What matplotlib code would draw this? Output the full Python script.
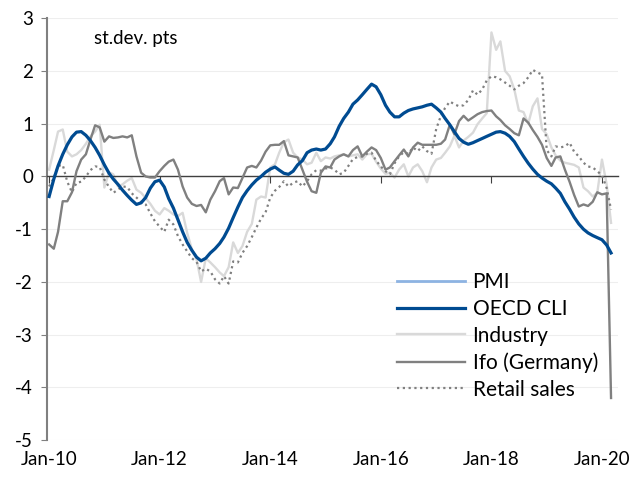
import numpy as np
import pandas as pd
import matplotlib
matplotlib.use('Agg')
import matplotlib.pyplot as plt
import matplotlib.dates as mdates

plt.rcParams['font.family'] = ['Lato', 'DejaVu Sans']
plt.rcParams['axes.unicode_minus'] = False

# monthly, Jan 2010 - Mar 2020 (st.dev. pts)
dates = pd.date_range('2010-01-01', '2020-03-01', freq='MS')

oecd_cli = [
    -0.38, -0.05, 0.20, 0.42, 0.60, 0.75, 0.84, 0.85, 0.78, 0.68, 0.55, 0.40,
    0.22, 0.06, -0.05, -0.15, -0.26, -0.36, -0.45, -0.53, -0.50, -0.40, -0.22, -0.10,
    -0.07, -0.20, -0.42, -0.60, -0.82, -1.05, -1.25, -1.40, -1.53, -1.60, -1.55, -1.45,
    -1.37, -1.27, -1.15, -0.98, -0.78, -0.58, -0.40, -0.27, -0.16, -0.07, 0.00, 0.08,
    0.14, 0.18, 0.12, 0.06, 0.04, 0.10, 0.22, 0.30, 0.45, 0.50, 0.52, 0.50,
    0.52, 0.62, 0.75, 0.95, 1.10, 1.22, 1.37, 1.45, 1.55, 1.65, 1.75, 1.70,
    1.55, 1.35, 1.22, 1.13, 1.13, 1.20, 1.25, 1.28, 1.30, 1.32, 1.35, 1.37,
    1.30, 1.22, 1.10, 0.98, 0.85, 0.72, 0.65, 0.61, 0.64, 0.68, 0.72, 0.76,
    0.80, 0.84, 0.85, 0.82, 0.76, 0.66, 0.52, 0.38, 0.25, 0.14, 0.04, -0.03,
    -0.09, -0.14, -0.22, -0.32, -0.48, -0.62, -0.77, -0.90, -1.00, -1.07, -1.12, -1.16,
    -1.20, -1.30, -1.45,
]

industry = [
    0.13, 0.50, 0.85, 0.89, 0.47, 0.38, 0.42, 0.50, 0.62, 0.76, 0.85, 0.98,
    -0.21, 0.08, 0.04, -0.19, -0.15, -0.08, -0.03, -0.25, -0.31, -0.41, -0.52, -0.65,
    -0.72, -0.60, -0.65, -0.72, -0.75, -0.69, -1.07, -1.38, -1.57, -2.00, -1.55, -1.63,
    -1.72, -1.82, -1.89, -1.72, -1.25, -1.45, -1.32, -1.05, -0.90, -0.44, -0.38, -0.40,
    0.17, 0.23, 0.45, 0.65, 0.70, 0.45, 0.36, 0.32, 0.23, 0.26, 0.45, 0.29,
    0.36, 0.34, 0.38, 0.40, 0.42, 0.38, 0.40, 0.42, 0.32, 0.42, 0.43, 0.28,
    0.15, 0.05, 0.07, -0.02, 0.13, 0.23, 0.00, 0.17, 0.23, 0.10, -0.11, 0.17,
    0.32, 0.35, 0.45, 0.57, 0.77, 0.55, 0.68, 0.75, 0.83, 0.99, 1.10, 1.20,
    2.73, 2.40, 2.56, 2.00, 1.90, 1.65, 1.25, 1.22, 1.00, 1.33, 1.48, 0.90,
    0.80, 0.55, 0.40, 0.30, 0.26, 0.24, 0.22, 0.17, -0.21, -0.28, -0.38, -0.31,
    0.32, -0.15, -0.88,
]

ifo = [
    -1.29, -1.37, -1.05, -0.47, -0.47, -0.30, 0.10, 0.32, 0.42, 0.70, 0.97, 0.93,
    0.66, 0.76, 0.73, 0.74, 0.76, 0.74, 0.78, 0.38, 0.07, 0.00, -0.02, -0.02,
    0.10, 0.20, 0.28, 0.32, 0.13, -0.19, -0.40, -0.52, -0.56, -0.54, -0.68, -0.44,
    -0.28, -0.09, -0.03, -0.34, -0.21, -0.22, -0.03, 0.17, 0.20, 0.17, 0.30, 0.47,
    0.59, 0.60, 0.60, 0.67, 0.40, 0.38, 0.36, 0.13, -0.10, -0.28, -0.31, 0.07,
    0.19, 0.17, 0.32, 0.38, 0.42, 0.38, 0.50, 0.57, 0.38, 0.47, 0.55, 0.50,
    0.35, 0.13, 0.17, 0.29, 0.40, 0.51, 0.38, 0.55, 0.64, 0.60, 0.60, 0.60,
    0.60, 0.62, 0.70, 0.98, 0.80, 1.05, 1.15, 1.06, 1.12, 1.18, 1.22, 1.24,
    1.25, 1.14, 1.07, 0.97, 0.90, 0.82, 0.78, 1.10, 1.02, 0.88, 0.75, 0.60,
    0.35, 0.20, 0.36, 0.38, 0.13, -0.10, -0.35, -0.57, -0.53, -0.56, -0.48, -0.30,
    -0.34, -0.32, -4.20,
]

retail = [
    -0.19, -0.03, 0.20, 0.22, -0.10, -0.30, -0.12, -0.10, 0.00, 0.12, 0.19, 0.18,
    -0.06, -0.20, -0.31, -0.25, -0.19, -0.20, -0.32, -0.40, -0.48, -0.53, -0.70, -0.85,
    -0.95, -1.05, -0.82, -0.91, -1.13, -1.29, -1.42, -1.55, -1.62, -1.80, -1.75, -1.80,
    -1.95, -2.03, -1.89, -2.03, -1.61, -1.63, -1.45, -1.32, -1.15, -0.97, -0.80, -0.68,
    -0.40, -0.27, -0.20, -0.09, -0.19, -0.12, -0.09, -0.19, -0.09, 0.04, 0.12, 0.11,
    0.15, 0.17, 0.13, 0.04, 0.07, 0.20, 0.33, 0.37, 0.38, 0.43, 0.45, 0.30,
    0.19, 0.10, 0.04, 0.25, 0.38, 0.46, 0.43, 0.55, 0.48, 0.57, 0.48, 0.43,
    0.90, 1.15, 1.30, 1.42, 1.37, 1.33, 1.35, 1.45, 1.63, 1.55, 1.65, 1.82,
    1.90, 1.88, 1.84, 1.78, 1.72, 1.65, 1.72, 1.77, 1.88, 2.02, 1.97, 1.93,
    0.50, 0.38, 0.57, 0.55, 0.57, 0.64, 0.47, 0.38, 0.26, 0.19, 0.17, 0.10,
    0.02, -0.22, -0.63,
]

tick_dates = pd.date_range('2010-01-01', '2020-01-01', freq='24MS')

fig = plt.figure(figsize=(6.35, 4.79), dpi=100)
ax = fig.add_axes([0.074, 0.081, 0.899, 0.881])

# gridlines
for yv in range(-5, 4):
    ax.axhline(yv, color='#eeeeee', lw=0.8, zorder=0)

ax.plot([], [], color='#8db3e2', lw=2, label='PMI')
ax.plot(dates, industry, color='#d9d9d9', lw=1.7, zorder=2, label='Industry')
ax.plot(dates, retail, color='#808080', lw=1.6, ls=(0, (1, 1.6)), zorder=3, label='Retail sales')
ax.plot(dates, ifo, color='#808080', lw=1.7, zorder=4, label='Ifo (Germany)')
ax.plot(dates, oecd_cli, color='#004b91', lw=2.3, zorder=5, label='OECD CLI')

ax.set_ylim(-5, 3)
ax.set_yticks(range(-5, 4))
ax.set_xlim(pd.Timestamp('2009-12-18'), pd.Timestamp('2020-04-15'))

# bottom spine sits on the zero line, labels go to a secondary axis at the bottom
ax.spines['bottom'].set_position(('data', 0))
ax.spines['bottom'].set_color('#404040')
ax.spines['bottom'].set_linewidth(1)
ax.spines['top'].set_visible(False)
ax.spines['right'].set_visible(False)
ax.spines['left'].set_color('#808080')
ax.spines['left'].set_linewidth(1.5)
ax.set_xticks(tick_dates)
ax.tick_params(axis='x', direction='out', length=5, color='#404040', labelbottom=False)
ax.tick_params(axis='y', direction='out', length=4, color='#808080', labelsize=13.5, pad=6)

sec = ax.secondary_xaxis('bottom')
sec.set_xticks(tick_dates)
sec.xaxis.set_major_formatter(mdates.DateFormatter('%b-%y'))
sec.spines['bottom'].set_visible(False)
sec.tick_params(length=0, labelsize=13.5, pad=8)

ax.text(0.082, 0.953, 'st.dev. pts', transform=ax.transAxes, fontsize=13.5, va='center')

handles, labels = ax.get_legend_handles_labels()
order = ['PMI', 'OECD CLI', 'Industry', 'Ifo (Germany)', 'Retail sales']
h = [handles[labels.index(o)] for o in order]
ax.legend(h, order, loc='upper left', bbox_to_anchor=(0.613, 0.398), frameon=False,
          fontsize=15, handlelength=3.25, handletextpad=0.38, labelspacing=0.32,
          borderpad=0, borderaxespad=0)

fig.savefig('out.png', dpi=100)
